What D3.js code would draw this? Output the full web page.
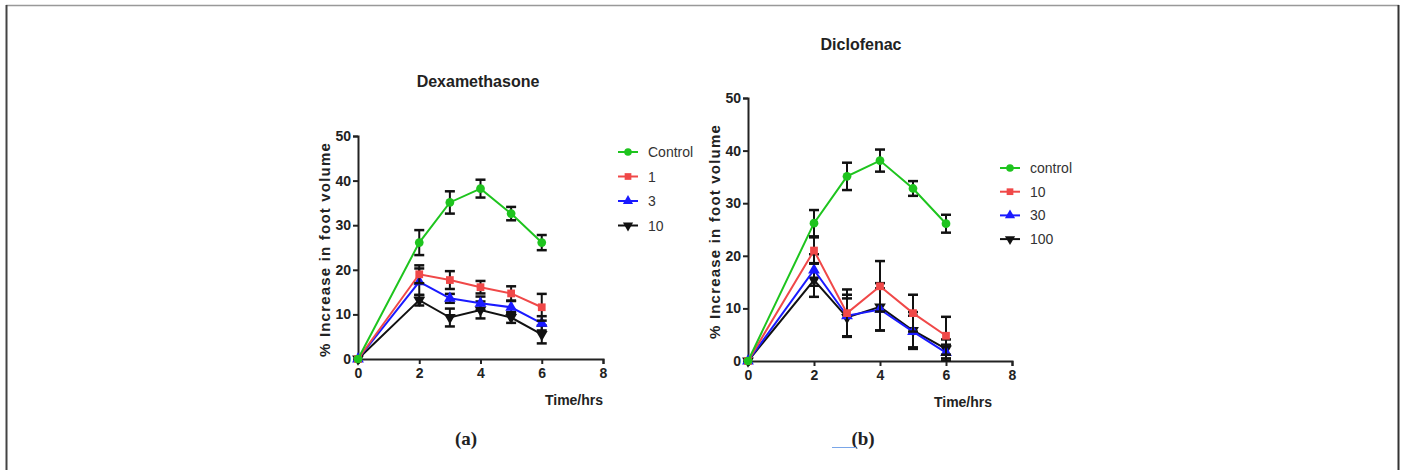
<!DOCTYPE html>
<html>
<head>
<meta charset="utf-8">
<script src="https://cdn.jsdelivr.net/npm/d3@7"></script>
<style>
  body { margin: 0; background: #fff; }
  svg text { font-family: "Liberation Sans", Arial, sans-serif; }
  svg text.narrow { font-family: "Liberation Sans Narrow", "Arial Narrow", "Liberation Sans", sans-serif; }
</style>
</head>
<body>
<div id="canvas"></div>
<script>
// time points shared by both panels
var times = [0, 2, 3, 4, 5, 6];

// (a) Dexamethasone
var dexaLabels = ["Control", "1", "3", "10"];
var dexaControl = [0, 26.1, 35.1, 38.2, 32.6, 26.1];
var dexaControlErr = [0, 2.8, 2.5, 2.0, 1.5, 1.7];
var dexa1 = [0, 19.0, 17.7, 16.1, 14.7, 11.6];
var dexa1Err = [0, 2.0, 2.0, 1.4, 1.6, 3.0];
var dexa3 = [0, 17.3, 13.6, 12.5, 11.6, 8.0];
var dexa3Err = [0, 3.0, 1.0, 1.5, 1.4, 1.6];
var dexa10 = [0, 13.2, 9.3, 11.0, 9.3, 5.5];
var dexa10Err = [0, 1.2, 2.0, 1.9, 1.2, 2.0];

// (b) Diclofenac
var diclLabels = ["control", "10", "30", "100"];
var diclControl = [0, 26.2, 35.1, 38.1, 32.8, 26.1];
var diclControlErr = [0, 2.5, 2.6, 2.1, 1.4, 1.7];
var dicl10 = [0, 21.0, 9.1, 14.2, 9.1, 4.8];
var dicl10Err = [0, 2.5, 4.5, 4.8, 3.5, 3.6];
var dicl30 = [0, 17.3, 8.6, 9.8, 5.6, 1.6];
var dicl30Err = [0, 3.0, 4.0, 4.0, 3.0, 1.5];
var dicl100 = [0, 15.4, 8.3, 10.3, 5.8, 2.3];
var dicl100Err = [0, 3.2, 3.6, 4.5, 3.5, 1.8];

var yTicks = [0, 10, 20, 30, 40, 50];
var xTicks = [0, 2, 4, 6, 8];

var colors = ["#1ec41e", "#f04848", "#1a1aff", "#111111"];
var symbols = [d3.symbolCircle, d3.symbolSquare, d3.symbolTriangle, "down"];

var svg = d3.select("#canvas")
  .append("svg")
  .attr("width", 1403)
  .attr("height", 470);

// page frame
svg.append("line").attr("x1", 6).attr("x2", 1399).attr("y1", 5.5).attr("y2", 5.5)
  .attr("stroke", "#999").attr("stroke-width", 1.5);
svg.append("line").attr("x1", 6.5).attr("x2", 6.5).attr("y1", 5).attr("y2", 470)
  .attr("stroke", "#444").attr("stroke-width", 2);
svg.append("line").attr("x1", 1398.5).attr("x2", 1398.5).attr("y1", 5).attr("y2", 470)
  .attr("stroke", "#333").attr("stroke-width", 2);

function marker(g, sym, color, size) {
  if (sym === "down") {
    g.append("path")
      .attr("d", d3.symbol(d3.symbolTriangle, size)())
      .attr("transform", "rotate(180)")
      .attr("fill", color);
  } else {
    g.append("path")
      .attr("d", d3.symbol(sym, size)())
      .attr("fill", color);
  }
}

function panel(opts) {
  var x = d3.scaleLinear().domain([0, 8]).range([opts.left, opts.right]);
  var y = d3.scaleLinear().domain([0, 50]).range([opts.bottom, opts.top]);
  var g = svg.append("g");

  var xAxis = g.append("g")
    .attr("transform", "translate(0," + opts.bottom + ")")
    .call(d3.axisBottom(x).tickValues(xTicks).tickSize(5).tickPadding(4));
  var yAxis = g.append("g")
    .attr("transform", "translate(" + opts.left + ",0)")
    .call(d3.axisLeft(y).tickValues(yTicks).tickSize(5).tickPadding(2));
  [xAxis, yAxis].forEach(function(a) {
    a.attr("font-family", null);
    a.select(".domain").attr("stroke", "#222").attr("stroke-width", 2);
    a.selectAll(".tick line").attr("stroke", "#222").attr("stroke-width", 2);
    a.selectAll(".tick text")
      .attr("class", "narrow")
      .attr("fill", "#222")
      .style("font-size", "14px")
      .style("font-weight", "bold");
  });

  g.append("text")
    .attr("x", opts.titleX).attr("y", opts.titleY)
    .attr("text-anchor", "middle")
    .attr("class", "narrow")
    .style("font-size", "16px").style("font-weight", "bold")
    .attr("fill", "#222")
    .text(opts.title);

  g.append("text")
    .attr("class", "narrow")
    .attr("transform", "translate(" + (opts.left - 28) + "," + ((opts.top + opts.bottom) / 2 + 2) + ") rotate(-90)")
    .attr("text-anchor", "middle")
    .style("font-size", "15px").style("font-weight", "bold")
    .style("letter-spacing", "1.2px")
    .attr("fill", "#222")
    .text("% Increase in foot volume");

  g.append("text")
    .attr("class", "narrow")
    .attr("x", opts.timeX).attr("y", opts.bottom + 46)
    .attr("text-anchor", "middle")
    .style("font-size", "14px").style("font-weight", "bold")
    .attr("fill", "#222")
    .text("Time/hrs");

  var line = d3.line()
    .x(function(d) { return x(d.t); })
    .y(function(d) { return y(d.v); });

  // draw lowest series first so control sits on top
  for (var s = opts.series.length - 1; s >= 0; s--) {
    var pts = times.map(function(t, i) {
      return { t: t, v: opts.series[s][i], e: opts.errors[s][i] };
    });
    var sg = g.append("g");
    sg.append("path")
      .datum(pts)
      .attr("d", line)
      .attr("fill", "none")
      .attr("stroke", colors[s])
      .attr("stroke-width", 2);

    pts.filter(function(d) { return d.e > 0; }).forEach(function(d) {
      var cx = x(d.t), y1 = y(d.v + d.e), y2 = y(d.v - d.e);
      sg.append("line").attr("x1", cx).attr("x2", cx).attr("y1", y1).attr("y2", y2)
        .attr("stroke", "#111").attr("stroke-width", 2);
      [y1, y2].forEach(function(yy) {
        sg.append("line").attr("x1", cx - 5).attr("x2", cx + 5).attr("y1", yy).attr("y2", yy)
          .attr("stroke", "#111").attr("stroke-width", 2.5);
      });
    });

    pts.forEach(function(d) {
      var mg = sg.append("g").attr("transform", "translate(" + x(d.t) + "," + y(d.v) + ")");
      marker(mg, symbols[s], colors[s], 60);
    });
  }

  // legend
  opts.labels.forEach(function(lab, i) {
    var ly = opts.legendY + i * opts.legendGap;
    var lg = g.append("g").attr("transform", "translate(" + opts.legendX + "," + ly + ")");
    lg.append("line").attr("x1", -10).attr("x2", 10).attr("y1", 0).attr("y2", 0)
      .attr("stroke", colors[i]).attr("stroke-width", 2);
    marker(lg, symbols[i], colors[i], 45);
    lg.append("text")
      .attr("x", 20).attr("y", 5)
      .style("font-size", "14px")
      .attr("fill", "#333")
      .text(lab);
  });

  svg.append("text")
    .attr("x", opts.capX).attr("y", 445)
    .attr("text-anchor", "middle")
    .style("font-family", "'Liberation Serif', 'Times New Roman', serif")
    .style("font-size", "19px").style("font-weight", "bold")
    .attr("fill", "#222")
    .text(opts.caption);
}

panel({
  left: 358, right: 603, top: 136, bottom: 359,
  title: "Dexamethasone", titleX: 478, titleY: 87,
  timeX: 574,
  series: [dexaControl, dexa1, dexa3, dexa10],
  errors: [dexaControlErr, dexa1Err, dexa3Err, dexa10Err],
  labels: dexaLabels, legendX: 628, legendY: 152, legendGap: 24.5,
  caption: "(a)", capX: 466
});

panel({
  left: 748, right: 1012, top: 98, bottom: 361,
  title: "Diclofenac", titleX: 861, titleY: 50,
  timeX: 963,
  series: [diclControl, dicl10, dicl30, dicl100],
  errors: [diclControlErr, dicl10Err, dicl30Err, dicl100Err],
  labels: diclLabels, legendX: 1010, legendY: 168, legendGap: 23.7,
  caption: "(b)", capX: 863
});

// blue underline next to (b)
svg.append("line").attr("x1", 832).attr("x2", 856).attr("y1", 447.5).attr("y2", 447.5)
  .attr("stroke", "#7aa6e8").attr("stroke-width", 1);
</script>
</body>
</html>
